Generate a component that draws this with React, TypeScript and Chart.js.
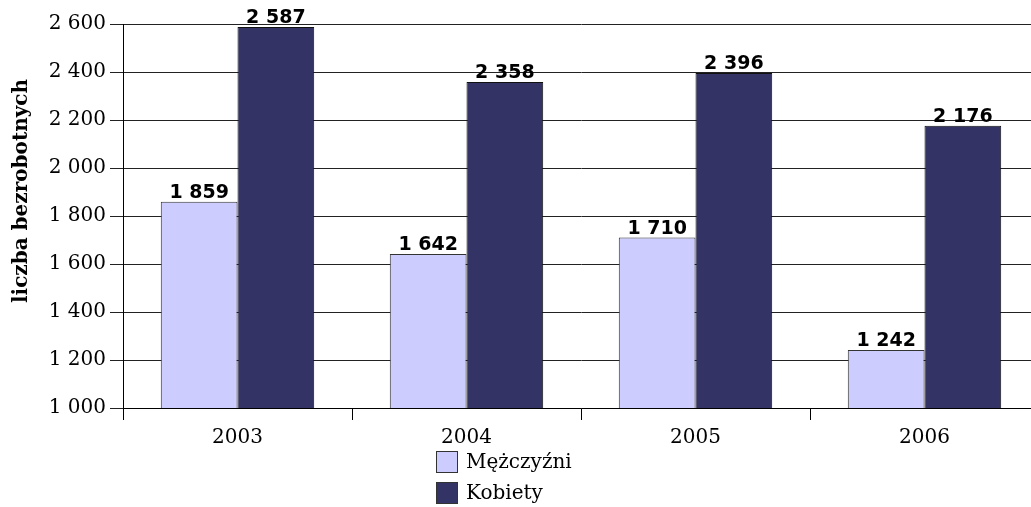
import React, { useEffect, useRef } from "react";
import { Chart, registerables } from "chart.js";

Chart.register(...registerables);

const categories = ["2003", "2004", "2005", "2006"];
const menValues = [1859, 1642, 1710, 1242];
const womenValues = [2587, 2358, 2396, 2176];
const seriesLabels = ["Mężczyźni", "Kobiety"];
const seriesColors = ["#CCCCFF", "#333366"];
const yTitle = "liczba bezrobotnych";
const yMin = 1000;
const yMax = 2600;
const yStep = 200;

const fmt = (v: number) => String(v).replace(/\B(?=(\d{3})+(?!\d))/g, " ");

const SERIF = '"DejaVu Serif", serif';
const SANS = '"DejaVu Sans", sans-serif';

const extrasPlugin = {
  id: "extras",
  afterDatasetsDraw(chart: any) {
    const ctx = chart.ctx;
    ctx.save();
    // value labels
    ctx.font = `bold 19px ${SANS}`;
    ctx.fillStyle = "#000";
    ctx.textAlign = "center";
    ctx.textBaseline = "alphabetic";
    chart.data.datasets.forEach((ds: any, di: number) => {
      const meta = chart.getDatasetMeta(di);
      meta.data.forEach((bar: any, i: number) => {
        ctx.fillText(fmt(ds.data[i]), bar.x, bar.y - 4);
      });
    });
    // y title
    ctx.save();
    ctx.translate(22, 191);
    ctx.rotate(-Math.PI / 2);
    ctx.font = `bold 20px ${SERIF}`;
    ctx.textAlign = "center";
    ctx.textBaseline = "middle";
    ctx.fillText(yTitle, 0, 0);
    ctx.restore();
    // legend
    const items = chart.data.datasets;
    const boxX = 436;
    const ys = [462, 493];
    ctx.font = `20px ${SERIF}`;
    ctx.textAlign = "left";
    ctx.textBaseline = "middle";
    items.forEach((ds: any, i: number) => {
      const y = ys[i];
      ctx.fillStyle = ds.backgroundColor;
      ctx.fillRect(boxX, y - 11, 22, 22);
      ctx.strokeStyle = "#333";
      ctx.lineWidth = 1;
      ctx.strokeRect(boxX + 0.5, y - 10.5, 21, 21);
      ctx.fillStyle = "#000";
      ctx.fillText(ds.label, boxX + 30, y + 1);
    });
    ctx.restore();
  },
};

export default function App() {
  const ref = useRef<HTMLCanvasElement | null>(null);
  useEffect(() => {
    if (!ref.current) return;
    const chart = new Chart(ref.current, {
      type: "bar",
      data: {
        labels: categories,
        datasets: [
          {
            label: seriesLabels[0],
            data: menValues,
            backgroundColor: seriesColors[0],
            borderColor: "#333",
            borderWidth: 1,
            categoryPercentage: 0.67,
            barPercentage: 1,
          },
          {
            label: seriesLabels[1],
            data: womenValues,
            backgroundColor: seriesColors[1],
            borderColor: "#111",
            borderWidth: 1,
            categoryPercentage: 0.67,
            barPercentage: 1,
          },
        ],
      },
      options: {
        animation: false,
        responsive: false,
        devicePixelRatio: 1,
        layout: { padding: { top: 24, left: 0, right: 1, bottom: 55 } },
        plugins: {
          legend: { display: false },
          tooltip: { enabled: false },
          title: { display: false },
        },
        scales: {
          x: {
            afterFit: (s: any) => {
              s.height = 44;
            },
            grid: {
              display: true,
              drawOnChartArea: false,
              drawTicks: true,
              tickLength: 12,
              color: "#000",
              offset: true,
            },
            border: { display: true, color: "#000", width: 1 },
            ticks: {
              color: "#000",
              font: { family: SERIF, size: 20 },
              padding: 6,
            },
          },
          y: {
            min: yMin,
            max: yMax,
            afterFit: (s: any) => {
              s.width = 123;
            },
            grid: {
              color: "#222",
              lineWidth: 1,
              drawTicks: true,
              tickLength: 13,
            },
            border: { display: true, color: "#000", width: 1 },
            ticks: {
              stepSize: yStep,
              color: "#000",
              font: { family: SERIF, size: 20 },
              padding: 4,
              callback: (v: any) => fmt(Number(v)),
            },
          },
        },
      },
      plugins: [extrasPlugin],
    });
    return () => chart.destroy();
  }, []);
  return (
    <div
      style={{
        position: "absolute",
        left: 0,
        top: 0,
        width: 1031,
        height: 507,
        overflow: "hidden",
        background: "#fff",
      }}
    >
      <canvas ref={ref} width={1040} height={507} style={{ display: "block" }} />
    </div>
  );
}
